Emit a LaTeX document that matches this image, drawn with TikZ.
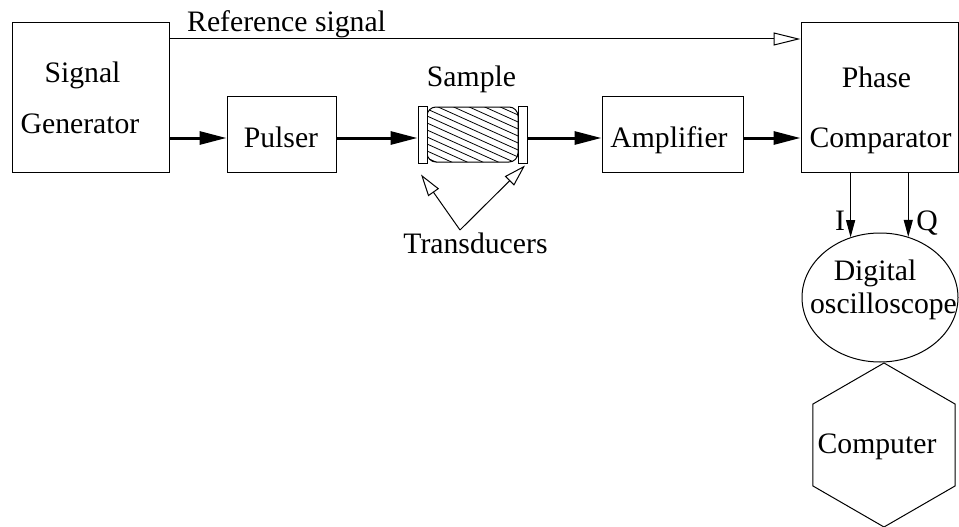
\documentclass[tikz,border=0pt]{standalone}
\usepackage{fontspec}
\setmainfont{Liberation Serif}
\usetikzlibrary{arrows.meta,shapes.geometric}
\newcommand{\lbl}{\fontsize{29.7}{36}\selectfont}
\tikzset{
  block/.style={draw, line width=1pt, inner sep=0pt, fill=white},
  txt/.style={font=\lbl, inner sep=0pt, anchor=base},
  signal/.style={line width=3pt, -{Triangle[length=27pt,width=13pt]}},
  probe/.style={line width=1pt, -{Triangle[length=17pt,width=9pt]}},
  refline/.style={line width=1pt, -{Triangle[open,length=27pt,width=13pt,line width=1pt]}},
  pointer/.style={line width=1pt, -{Triangle[open,length=22pt,width=13pt,line width=1pt]}},
  plate/.style={draw, line width=1pt, fill=white}
}
\begin{document}
\begin{tikzpicture}[x=1pt,y=-1pt]
\useasboundingbox (0,0) rectangle (959,527);

% reference levels for the main chain and the reference line
\coordinate (ml) at (0,138);
\coordinate (rl) at (0,39);

% blocks
\node[block, minimum width=157pt, minimum height=149pt] (sg) at (90.5,97.5) {};
\node[block, minimum width=109pt, minimum height=75pt] (pu) at (281.5,134.5) {};
\node[block, minimum width=141pt, minimum height=75pt] (am) at (672.5,134.5) {};
\node[block, minimum width=157pt, minimum height=149pt] (pc) at (879.5,97.5) {};
\node[draw, line width=1pt, ellipse, inner sep=0pt,
      minimum width=156pt, minimum height=129pt] (osc) at (880,297.5) {};
\node[draw, line width=1pt, regular polygon, regular polygon sides=6,
      regular polygon rotate=30, inner sep=0pt, minimum size=164pt] (pcx) at (884,445) {};

% sample between the two transducers
\begin{scope}
  \clip[rounded corners=9pt] (427,107) rectangle (518,162);
  \foreach \k in {-2,...,16}
    \draw[line width=0.8pt] (427,60+\k*7) -- ++(120,54);
\end{scope}
\draw[line width=1pt, rounded corners=9pt] (427,107) rectangle (518,162);
\node[plate, minimum width=9pt, minimum height=57pt, inner sep=0pt] (tl) at (422.5,134.5) {};
\node[plate, minimum width=9pt, minimum height=57pt, inner sep=0pt] (tr) at (522.5,134.5) {};

% texts
\node[txt, anchor=base west] (reftxt) at (187,32) {Reference signal};
\node[txt] (sg1) at (82.5,82) {Signal};
\node[txt] (sg2) at (80,133) {Generator};
\node[txt] (putxt) at (281,147) {Pulser};
\node[txt] (amtxt) at (669,147) {Amplifier};
\node[txt] (pc1) at (876.5,88) {Phase};
\node[txt] (pc2) at (880.5,147) {Comparator};
\node[txt] (smp) at (471.5,87) {Sample};
\node[txt] (trd) at (475.5,253) {Transducers};
\node[txt] (ilbl) at (840,230) {I};
\node[txt] (qlbl) at (927,230) {Q};
\node[txt] (osc1) at (875,280) {Digital};
\node[txt] (osc2) at (883.5,313) {oscilloscope};
\node[txt] (cmp) at (877,453) {Computer};

% main signal chain
\draw[signal] (sg.east |- ml) -- (pu.west |- ml);
\draw[signal] (pu.east |- ml) -- (tl.west |- ml);
\draw[signal] (tr.east |- ml) -- (am.west |- ml);
\draw[signal] (am.east |- ml) -- (pc.west |- ml);

% reference signal
\draw[refline] (sg.east |- rl) -- (pc.west |- rl);

% I and Q outputs
\draw[probe] (pc.south -| osc.116) -- (osc.116);
\draw[probe] (pc.south -| osc.65) -- (osc.65);

% transducer pointers
\coordinate (tj) at (460,230);
\draw[pointer] (tj) -- ([xshift=-1.5pt,yshift=-11pt]tl.south);
\draw[pointer] (tj) -- ([xshift=2.5pt,yshift=-2pt]tr.south);
\end{tikzpicture}
\end{document}
